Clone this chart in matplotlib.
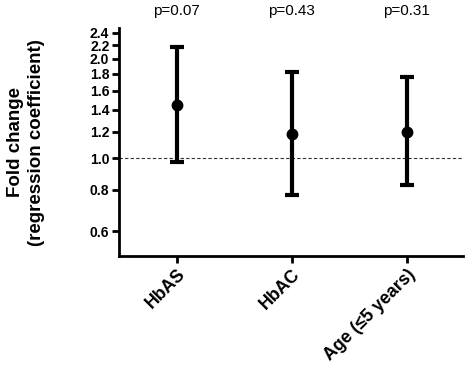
import matplotlib
matplotlib.use('Agg')
from matplotlib import pyplot as plt
from matplotlib.ticker import FixedLocator, FormatStrFormatter, NullLocator
import numpy as np

plt.rcParams['font.family'] = ['Liberation Sans', 'DejaVu Sans']

# Данные: оценка и доверительный интервал
categories = ['HbAS', 'HbAC', 'Age (\u22645 years)']
fold_change = [1.45, 1.18, 1.20]
ci_low = [0.97, 0.77, 0.83]
ci_high = [2.18, 1.83, 1.76]
p_values = ['p=0.07', 'p=0.43', 'p=0.31']
y_ticks = [0.6, 0.8, 1.0, 1.2, 1.4, 1.6, 1.8, 2.0, 2.2, 2.4]

fig = plt.figure(figsize=(4.74, 3.70), dpi=100)
ax = fig.add_axes([0.251, 0.308, 0.726, 0.616])

x = np.arange(len(categories))
fc = np.array(fold_change)
err = [fc - np.array(ci_low), np.array(ci_high) - fc]

ax.axhline(1.0, color='#333333', lw=0.8, ls=(0, (3, 2)), zorder=1)
ax.errorbar(x, fc, yerr=err, fmt='o', color='black', ms=7.5,
            elinewidth=3, capsize=5, capthick=3, zorder=3)

ax.set_yscale('log')
ax.set_ylim(0.504, 2.48)
ax.set_xlim(-0.5, 2.49)
ax.yaxis.set_major_locator(FixedLocator(y_ticks))
ax.yaxis.set_major_formatter(FormatStrFormatter('%.1f'))
ax.yaxis.set_minor_locator(NullLocator())

ax.set_xticks(x)
ax.set_xticklabels(categories, rotation=45, ha='right', rotation_mode='anchor',
                   fontsize=12.8, fontweight='bold')
for lbl in ax.get_yticklabels():
    lbl.set_fontweight('bold')
    lbl.set_fontsize(10)

for s in ['top', 'right']:
    ax.spines[s].set_visible(False)
for s in ['left', 'bottom']:
    ax.spines[s].set_linewidth(2)
ax.tick_params(axis='both', width=2, length=5, direction='out', pad=2)

ax.set_ylabel('Fold change\n(regression coefficient)', fontsize=13.5,
              fontweight='bold', linespacing=1.3)
ax.yaxis.set_label_coords(-0.215, 0.5)

# p-значения над каждой категорией
for xi, p in zip(x, p_values):
    ax.text(xi, 1.045, p, transform=ax.get_xaxis_transform(), ha='center',
            va='bottom', fontsize=11)

fig.savefig('out.png', dpi=100)
